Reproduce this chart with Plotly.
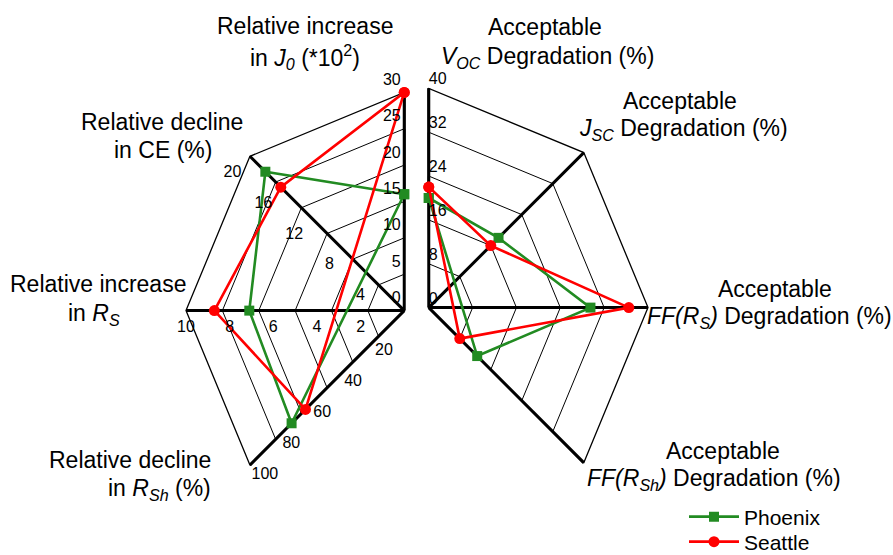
import plotly.graph_objects as go

W, H = 893, 555
FONT = "Liberation Sans, Arial, sans-serif"
GREEN = "#228B22"
RED = "#FF0000"

# ---------------- data ----------------
left_axes = ["J0", "CE", "RS", "RSh"]
left_max = [30, 20, 10, 100]
left_ticks = [
    [0, 5, 10, 15, 20, 25, 30],
    [4, 8, 12, 16, 20],
    [2, 4, 6, 8, 10],
    [20, 40, 60, 80, 100],
]
phoenix_left = [16, 18, 7.1, 73]
seattle_left = [30, 16, 8.7, 64]

right_axes = ["VOC", "JSC", "FFRS", "FFRSh"]
right_max = [40, 40, 40, 40]
right_ticks = [0, 8, 16, 24, 32, 40]
phoenix_right = [20, 18, 29.5, 12.5]
seattle_right = [22, 16, 36.5, 8]

left_dummy = ["l4", "l5", "l6", "l7"]
right_dummy = ["r4", "r5", "r6", "r7"]


def px(x):
    return x / W


def py(y):
    return 1 - y / H


def norm(vals, maxes):
    return [v / m for v, m in zip(vals, maxes)]


fig = go.Figure()

# invisible scaffolding so that each polar has 8 evenly spaced categories
fig.add_trace(go.Scatterpolar(r=[0] * 8, theta=left_axes + left_dummy, mode="markers",
                              marker=dict(opacity=0), hoverinfo="skip", showlegend=False,
                              subplot="polar"))
fig.add_trace(go.Scatterpolar(r=[0] * 8, theta=right_axes + right_dummy, mode="markers",
                              marker=dict(opacity=0), hoverinfo="skip", showlegend=False,
                              subplot="polar2"))

series = [
    ("Phoenix", GREEN, "square", 10, phoenix_left, phoenix_right, "legend"),
    ("Seattle", RED, "circle", 11, seattle_left, seattle_right, "legend2"),
]
for name, col, sym, size, lv, rv, leg in series:
    rl = norm(lv, left_max)
    fig.add_trace(go.Scatterpolar(
        r=rl + rl[:1], theta=left_axes + left_axes[:1], mode="lines+markers", name=name,
        legendgroup=name, legend=leg, line=dict(color=col, width=2.6),
        marker=dict(color=col, symbol=sym, size=size), subplot="polar", cliponaxis=False))
    rr = norm(rv, right_max)
    fig.add_trace(go.Scatterpolar(
        r=rr + rr[:1], theta=right_axes + right_axes[:1], mode="lines+markers", name=name,
        legendgroup=name, showlegend=False, line=dict(color=col, width=2.6),
        marker=dict(color=col, symbol=sym, size=size), subplot="polar2", cliponaxis=False))

# tick labels placed along each spoke (invisible markers only set the text offset)
left_pos = [("top left", 4), ("bottom left", 12), ("bottom center", 14), ("bottom right", 1)]
for ax, m, ticks, (pos, off) in zip(left_axes, left_max, left_ticks, left_pos):
    fig.add_trace(go.Scatterpolar(
        r=[max(t / m, 1e-4) for t in ticks], theta=[ax] * len(ticks), mode="markers+text",
        marker=dict(size=off, opacity=0),
        text=[str(t) for t in ticks], textposition=pos,
        textfont=dict(size=16, color="black", family=FONT),
        hoverinfo="skip", showlegend=False, subplot="polar", cliponaxis=False))
fig.add_trace(go.Scatterpolar(
    r=[max(t / right_max[0], 1e-4) for t in right_ticks], theta=[right_axes[0]] * len(right_ticks),
    mode="text", text=[str(t) for t in right_ticks], textposition="top right",
    textfont=dict(size=16, color="black", family=FONT),
    hoverinfo="skip", showlegend=False, subplot="polar2", cliponaxis=False))


def polar_layout(dx, dy, cats, direction, sector, rings):
    return dict(
        domain=dict(x=dx, y=dy),
        sector=sector,
        gridshape="linear",
        bgcolor="white",
        angularaxis=dict(type="category", categoryorder="array", categoryarray=cats,
                         direction=direction, rotation=90, showticklabels=False, ticks="",
                         showline=True, linecolor="black", linewidth=1.3,
                         showgrid=True, gridcolor="black", gridwidth=2.6, layer="below traces"),
        radialaxis=dict(range=[0, 1], tickvals=rings, showticklabels=False, ticks="",
                        showline=False, showgrid=True, gridcolor="black", gridwidth=1.2,
                        layer="below traces"),
    )


# left: centre (405,311), R=219 ; right: centre (428,308), R=220
left_rings = [k / 6 for k in range(1, 6)]
right_rings = [k / 5 for k in range(1, 5)]
polar1 = polar_layout([px(186), px(405)], [py(311 + 0.7071 * 219), py(311 - 219)],
                      left_axes + left_dummy, "counterclockwise", [89.8, 225.2], left_rings)
polar2 = polar_layout([px(428), px(648)], [py(308 + 0.7071 * 220), py(308 - 220)],
                      right_axes + right_dummy, "clockwise", [-45.2, 90.2], right_rings)

# axis titles, one annotation per line: (text, x, y, anchor)
title_lines = [
    ("Relative increase", 305, 26, "center"),
    ("in <i>J<sub>0</sub></i> (*10<sup>2</sup>)", 305, 57, "center"),
    ("Relative decline", 162, 122, "center"),
    ("in CE (%)", 163, 150, "center"),
    ("Relative increase", 98, 284, "center"),
    ("in <i>R<sub>S</sub></i>", 94, 314, "center"),
    ("Relative decline", 213, 460, "right"),
    ("in <i>R<sub>Sh</sub></i> (%)", 213, 489, "right"),
    ("Acceptable", 545, 27, "center"),
    ("<i>V<sub>OC</sub></i> Degradation (%)", 547, 57, "center"),
    ("Acceptable", 680, 101, "center"),
    ("<i>J<sub>SC</sub></i> Degradation (%)", 683, 129, "center"),
    ("Acceptable", 775, 289, "center"),
    ("<i>FF(R<sub>S</sub>)</i> Degradation (%)", 645, 317, "left"),
    ("Acceptable", 723, 451, "center"),
    ("<i>FF(R<sub>Sh</sub>)</i> Degradation (%)", 714, 479, "center"),
]
annotations = []
for txt, x, y, al in title_lines:
    annotations.append(dict(text=txt, x=px(x), y=py(y), xref="paper", yref="paper",
                            xanchor=al, yanchor="middle", align=al, showarrow=False,
                            font=dict(size=23, color="black", family=FONT)))

legend_common = dict(xanchor="left", yanchor="middle",
                     font=dict(size=21, family=FONT, color="black"),
                     bgcolor="rgba(0,0,0,0)", itemwidth=50)

fig.update_layout(
    width=W, height=H, autosize=False,
    margin=dict(l=0, r=0, t=0, b=0, autoexpand=False),
    paper_bgcolor="white", plot_bgcolor="white",
    font=dict(family=FONT, color="black"),
    polar=polar1, polar2=polar2,
    annotations=annotations,
    showlegend=True,
    legend=dict(x=px(684), y=py(517), **legend_common),
    legend2=dict(x=px(684), y=py(542), **legend_common),
)

fig.write_html("out.html", config={"displayModeBar": False},
               post_script="document.body.style.margin='0';")
